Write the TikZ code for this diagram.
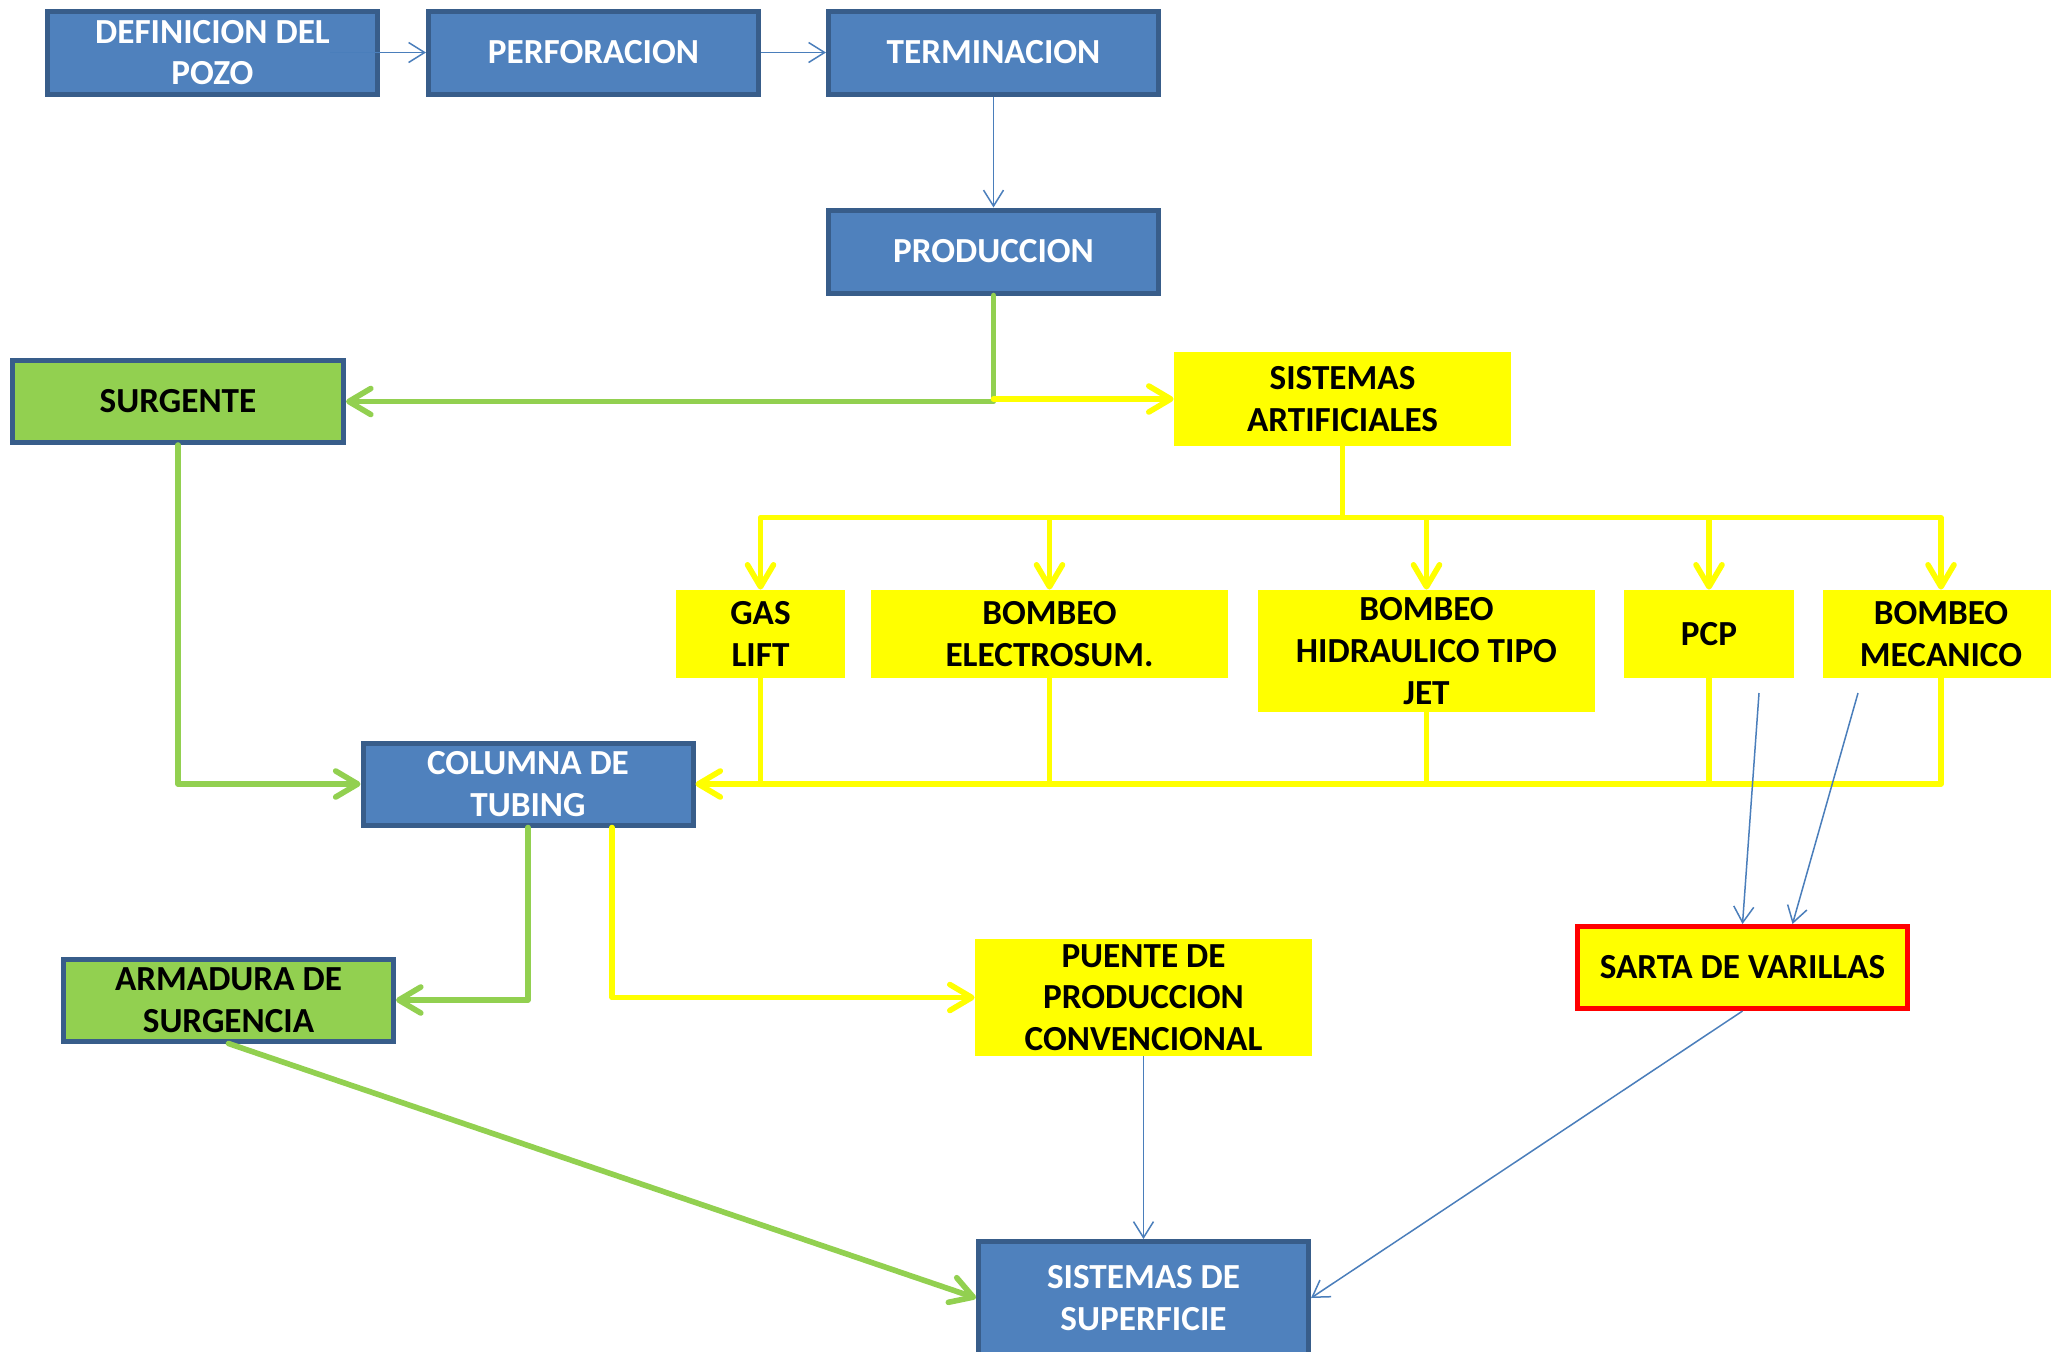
\documentclass[tikz,border=0pt]{standalone}
\usepackage{fontspec}
\setmainfont{Carlito}
\usetikzlibrary{arrows.meta}
\definecolor{boxblue}{HTML}{4F81BD}
\definecolor{borderblue}{HTML}{385D8A}
\definecolor{arrowblue}{HTML}{4A7EBB}
\definecolor{boxgreen}{HTML}{92D050}
\definecolor{boxyellow}{HTML}{FFFF00}
\definecolor{boxred}{HTML}{FF0000}
\tikzset{
  base/.style={inner sep=0pt, align=center, font=\fontsize{17.6}{20.9}\selectfont\bfseries},
  sz/.style 2 args={minimum width=#1*0.5pt, minimum height=#2*0.5pt},
  bluebox/.style={base, fill=boxblue, draw=borderblue, line width=2.5pt, text=white},
  greenbox/.style={base, fill=boxgreen, draw=borderblue, line width=2.5pt, text=black},
  yellowbox/.style={base, fill=boxyellow, text=black},
  redbox/.style={base, fill=boxyellow, draw=boxred, line width=2.5pt, text=black},
  thinarrow/.style={draw=arrowblue, line width=0.75pt, -{Straight Barb[length=8pt,width=10pt]}},
  thick/.style={line width=2.8pt, line cap=round, line join=round},
  garrow/.style={thick, draw=boxgreen, -{Straight Barb[length=11pt,width=13pt,round]}},
  gline/.style={thick, draw=boxgreen},
  yarrow/.style={thick, draw=boxyellow, -{Straight Barb[length=11pt,width=13pt,round]}},
  yline/.style={thick, draw=boxyellow},
}
\begin{document}
\begin{tikzpicture}[x=0.5pt,y=-0.5pt]
\useasboundingbox[fill=white] (0,0) rectangle (2051,1351);

% nodes
\node[bluebox, sz={330}{83}] (def)  at (212.5,52.5) {DEFINICION DEL\\POZO};
\node[bluebox, sz={330}{83}] (perf) at (593.5,52.5) {PERFORACION};
\node[bluebox, sz={330}{83}] (term) at (993.5,52.5) {TERMINACION};
\node[bluebox, sz={330}{83}] (prod) at (993.5,251.5) {PRODUCCION};
\node[greenbox, sz={331}{82}] (surg) at (178,401.5) {SURGENTE};
\node[yellowbox, sz={337}{94}] (sa) at (1342.5,399) {SISTEMAS\\ARTIFICIALES};
\node[yellowbox, sz={169}{88}] (gas) at (760.5,634) {GAS\\LIFT};
\node[yellowbox, sz={357}{88}] (be) at (1049.5,634) {BOMBEO\\ELECTROSUM.};
\node[yellowbox, sz={337}{122}] (bh) at (1426.5,651) {BOMBEO\\HIDRAULICO TIPO\\JET};
\node[yellowbox, sz={170}{88}] (pcp) at (1709,634) {PCP};
\node[yellowbox, sz={236}{88}] (bm) at (1941,634) {BOMBEO\\MECANICO};
\node[bluebox, sz={330}{82}] (col) at (528,784) {COLUMNA DE\\TUBING};
\node[greenbox, sz={330}{82}] (arm) at (228.5,1000) {ARMADURA DE\\SURGENCIA};
\node[yellowbox, sz={337}{117}] (pue) at (1143.5,997.5) {PUENTE DE\\PRODUCCION\\CONVENCIONAL};
\node[redbox, sz={330}{82}] (sarta) at (1742.5,967.5) {SARTA DE VARILLAS};
\node[bluebox, sz={330}{113}] (sup) at (1143.5,1298) {SISTEMAS DE\\SUPERFICIE};

\coordinate (pcpfree) at (1759,693);
\coordinate (bmfree) at (1858,693);

% top row (thin blue)
\draw[thinarrow] ([xshift=-25pt]def.east) -- (perf.west);
\draw[thinarrow] (perf.east) -- (term.west);
\draw[thinarrow] (term.south) -- (prod.north);

% produccion branches
\draw[garrow] (prod.south) |- (surg.east);
\draw[yarrow] (prod.south |- sa.west) -- (sa.west);

% sistemas artificiales bus
\draw[yarrow] (sa.south) |- ([yshift=36pt]gas.north) -- (gas.north);
\draw[yarrow] (sa.south) |- ([yshift=36pt]be.north) -- (be.north);
\draw[yarrow] (sa.south) |- ([yshift=36pt]bh.north) -- (bh.north);
\draw[yarrow] (sa.south) |- ([yshift=36pt]pcp.north) -- (pcp.north);
\draw[yarrow] (sa.south) |- ([yshift=36pt]bm.north) -- (bm.north);

% return bus to columna
\draw[yarrow] (bm.south) |- (col.east);
\draw[yline] (gas.south) -- (gas.south |- col.east);
\draw[yline] (be.south) -- (be.south |- col.east);
\draw[yline] (bh.south) -- (bh.south |- col.east);
\draw[yline] (pcp.south) -- (pcp.south |- col.east);

% surgente to columna
\draw[garrow] (surg.south) |- (col.west);

% columna outputs
\draw[garrow] (col.south) |- (arm.east);
\draw[yarrow] ([xshift=42pt]col.south) |- (pue.west);

% to superficie
\draw[garrow] (arm.south) -- (sup.west);
\draw[thinarrow] (pue.south) -- (sup.north);
\draw[thinarrow] (sarta.south) -- (sup.east);

% into sarta
\draw[thinarrow] (pcpfree) -- (sarta.north);
\draw[thinarrow] (bmfree) -- ([xshift=25pt]sarta.north);
\end{tikzpicture}
\end{document}
